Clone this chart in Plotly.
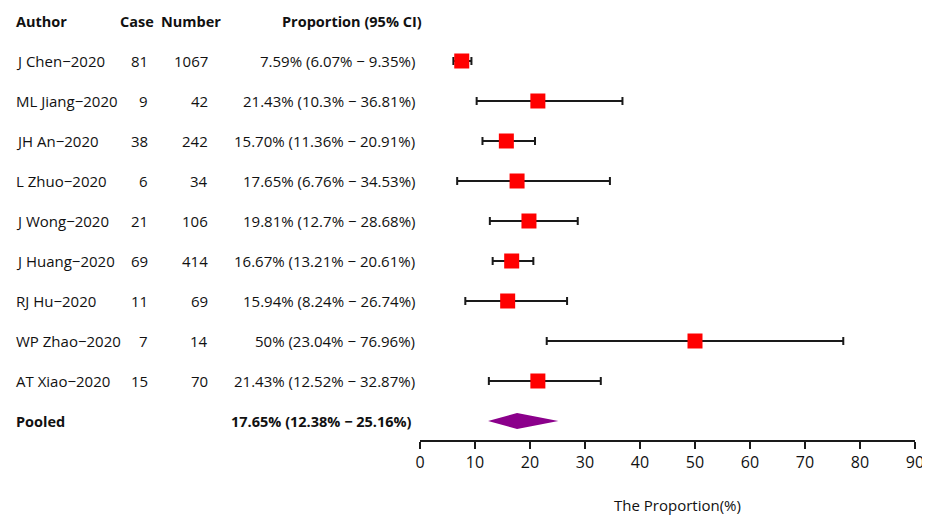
import plotly.graph_objects as go

authors = ["J Chen\u22122020", "ML Jiang\u22122020", "JH An\u22122020", "L Zhuo\u22122020", "J Wong\u22122020",
           "J Huang\u22122020", "RJ Hu\u22122020", "WP Zhao\u22122020", "AT Xiao\u22122020"]
cases = [81, 9, 38, 6, 21, 69, 11, 7, 15]
numbers = [1067, 42, 242, 34, 106, 414, 69, 14, 70]
prop = [7.59, 21.43, 15.70, 17.65, 19.81, 16.67, 15.94, 50, 21.43]
lower = [6.07, 10.3, 11.36, 6.76, 12.7, 13.21, 8.24, 23.04, 12.52]
upper = [9.35, 36.81, 20.91, 34.53, 28.68, 20.61, 26.74, 76.96, 32.87]
prop_labels = ["7.59% (6.07% \u2212 9.35%)", "21.43% (10.3% \u2212 36.81%)", "15.70% (11.36% \u2212 20.91%)",
               "17.65% (6.76% \u2212 34.53%)", "19.81% (12.7% \u2212 28.68%)", "16.67% (13.21% \u2212 20.61%)",
               "15.94% (8.24% \u2212 26.74%)", "50% (23.04% \u2212 76.96%)", "21.43% (12.52% \u2212 32.87%)"]
pooled = 17.65
pooled_lo = 12.38
pooled_hi = 25.16
pooled_label = "17.65% (12.38% \u2212 25.16%)"
headers = ["Author", "Case", "Number", "Proportion (95% CI)"]
x_ticks = [0, 10, 20, 30, 40, 50, 60, 70, 80, 90]

FONT = "Open Sans, Noto Sans, sans-serif"
OFF = 8  # page body margin
W, H = 930 - OFF, 515 - OFF
L = 420 - OFF
R = W - (915 - OFF)
T = 0
AXIS_Y = 440 - OFF
B = H - AXIS_Y
pw = W - L - R
ph = H - T - B
ROW0 = 61 - OFF   # pixel y (figure coords) of first row
STEP = 40.0


def px2paper(px):
    return (px - OFF - L) / pw


rows = list(range(len(authors)))
pooled_row = len(authors)

fig = go.Figure()

# pooled diamond
fig.add_trace(go.Scatter(
    x=[pooled_lo, pooled, pooled_hi, pooled, pooled_lo],
    y=[pooled_row, pooled_row - 0.2, pooled_row, pooled_row + 0.2, pooled_row],
    mode="lines", fill="toself", fillcolor="#8B008B", line=dict(color="#8B008B", width=0),
    hoverinfo="skip", showlegend=False))

# study points with CI
fig.add_trace(go.Scatter(
    x=prop, y=rows, mode="markers",
    marker=dict(symbol="square", size=15, color="#FF0000", line=dict(width=0)),
    error_x=dict(type="data", symmetric=False,
                 array=[u - p for u, p in zip(upper, prop)],
                 arrayminus=[p - l for p, l in zip(prop, lower)],
                 color="#1a1a1a", thickness=2, width=4),
    showlegend=False))

ann = []
txt = "#111111"
FS = 15
for i in rows:
    ann.append(dict(x=px2paper(14), y=i, xref="paper", yref="y", text=authors[i],
                    xanchor="left", yanchor="middle", showarrow=False, font=dict(size=FS, color=txt, family=FONT)))
    ann.append(dict(x=px2paper(150), y=i, xref="paper", yref="y", text=str(cases[i]),
                    xanchor="right", yanchor="middle", showarrow=False, font=dict(size=FS, color=txt, family=FONT)))
    ann.append(dict(x=px2paper(210), y=i, xref="paper", yref="y", text=str(numbers[i]),
                    xanchor="right", yanchor="middle", showarrow=False, font=dict(size=FS, color=txt, family=FONT)))
    ann.append(dict(x=px2paper(417), y=i, xref="paper", yref="y", text=prop_labels[i],
                    xanchor="right", yanchor="middle", showarrow=False, font=dict(size=FS, color=txt, family=FONT)))

hdr_pos = [(14, "left"), (118, "left"), (159, "left"), (424, "right")]
for h, (p, a) in zip(headers, hdr_pos):
    ann.append(dict(x=px2paper(p), y=-1, xref="paper", yref="y", text="<b>" + h + "</b>",
                    xanchor=a, yanchor="middle", showarrow=False, font=dict(size=FS - 0.5, color=txt, family=FONT)))

ann.append(dict(x=px2paper(14), y=pooled_row, xref="paper", yref="y", text="<b>Pooled</b>",
                xanchor="left", yanchor="middle", showarrow=False, font=dict(size=FS - 0.5, color=txt, family=FONT)))
ann.append(dict(x=px2paper(414), y=pooled_row, xref="paper", yref="y", text="<b>" + pooled_label + "</b>",
                xanchor="right", yanchor="middle", showarrow=False, font=dict(size=FS - 0.5, color=txt, family=FONT)))

ann.append(dict(x=px2paper(677), y=(AXIS_Y - (505 - OFF)) / ph, xref="paper", yref="paper",
                text="The Proportion(%)", xanchor="center", yanchor="middle", showarrow=False,
                font=dict(size=15, color=txt, family=FONT)))

y_top = -ROW0 / STEP
y_bot = (AXIS_Y - ROW0) / STEP

fig.update_layout(
    width=W, height=H, margin=dict(l=L, r=R, t=T, b=B, pad=0),
    paper_bgcolor="white", plot_bgcolor="white",
    annotations=ann,
    xaxis=dict(range=[0, 90], tickvals=x_ticks, showgrid=False, zeroline=False,
               showline=True, linecolor="#1a1a1a", linewidth=2,
               ticks="outside", ticklen=7, tickwidth=2, tickcolor="#1a1a1a",
               tickfont=dict(size=16, color=txt, family=FONT), fixedrange=True),
    yaxis=dict(range=[y_bot, y_top],
               showgrid=False, zeroline=False, showticklabels=False, showline=False, fixedrange=True),
    font=dict(family=FONT),
)

fig.write_html("out.html")
